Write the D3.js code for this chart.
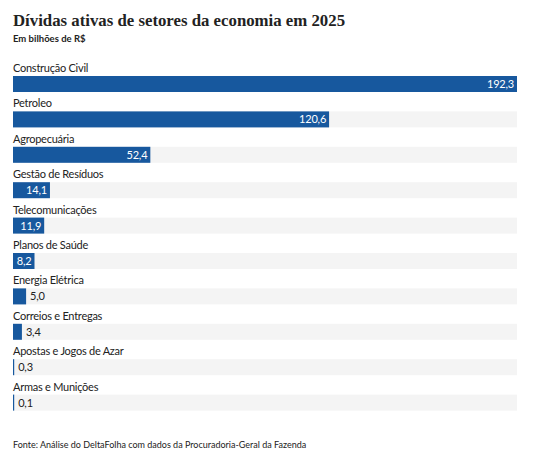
<!DOCTYPE html>
<html><head><meta charset="utf-8">
<script src="https://cdn.jsdelivr.net/npm/d3@7"></script>
<style>body{margin:0;background:#fff}</style>
</head><body>
<script>
const categories = ["Construção Civil","Petroleo","Agropecuária","Gestão de Resíduos","Telecomunicações","Planos de Saúde","Energia Elétrica","Correios e Entregas","Apostas e Jogos de Azar","Armas e Munições"];
const values = [192.3,120.6,52.4,14.1,11.9,8.2,5.0,3.4,0.3,0.1];
const title = "Dívidas ativas de setores da economia em 2025";
const subtitle = "Em bilhões de R$";
const source = "Fonte: Análise do DeltaFolha com dados da Procuradoria-Geral da Fazenda";

const W = 542, H = 472;
const svg = d3.select("body").append("svg").attr("width", W).attr("height", H);
const left = 13, right = 517;
const x = d3.scaleLinear().domain([0, d3.max(values)]).range([left, right]);
const y = d3.scaleBand().domain(categories).range([60, 414]).paddingInner(0).paddingOuter(0);
const barH = 16;
const sans = "Lato, 'Open Sans', sans-serif";

svg.append("text").attr("x", left).attr("y", 26).text(title)
  .attr("font-family","'Liberation Serif', serif").attr("font-weight","bold").attr("font-size",16.8).attr("fill","#222");
svg.append("text").attr("x", left).attr("y", 42).text(subtitle)
  .attr("font-family",sans).attr("font-weight","bold").attr("font-size",9.5).attr("fill","#222");

const fmt = v => d3.format(".1f")(v).replace(".", ",");
const rows = svg.selectAll("g.row").data(categories).join("g").attr("class","row")
  .attr("transform", d => `translate(0,${y(d)})`);
rows.append("text").attr("x", left).attr("y", 12).text(d => d)
  .attr("font-family",sans).attr("font-size",11).attr("letter-spacing",-0.25).attr("fill","#222");
rows.append("rect").attr("x", left).attr("y", 16).attr("width", right - left).attr("height", barH).attr("fill","#f4f4f4");
rows.append("rect").attr("x", left).attr("y", 16)
  .attr("width", (d,i) => Math.max(1.2, x(values[i]) - left)).attr("height", barH).attr("fill","#17589e");
rows.append("text").text((d,i) => fmt(values[i]))
  .attr("font-family",sans).attr("font-size",11).attr("letter-spacing",-0.2).attr("y", 16 + barH/2).attr("dy","0.36em")
  .each(function(d,i){
    const w = x(values[i]) - left;
    const tw = this.getComputedTextLength();
    const sel = d3.select(this);
    if (w > tw + 4) sel.attr("x", x(values[i]) - 3).attr("text-anchor","end").attr("fill","#fff");
    else sel.attr("x", left + Math.max(1.2, w) + 4).attr("text-anchor","start").attr("fill","#222");
  });

svg.append("text").attr("x", left).attr("y", 448).text(source)
  .attr("font-family",sans).attr("font-size",9).attr("fill","#222");
</script>
</body></html>
